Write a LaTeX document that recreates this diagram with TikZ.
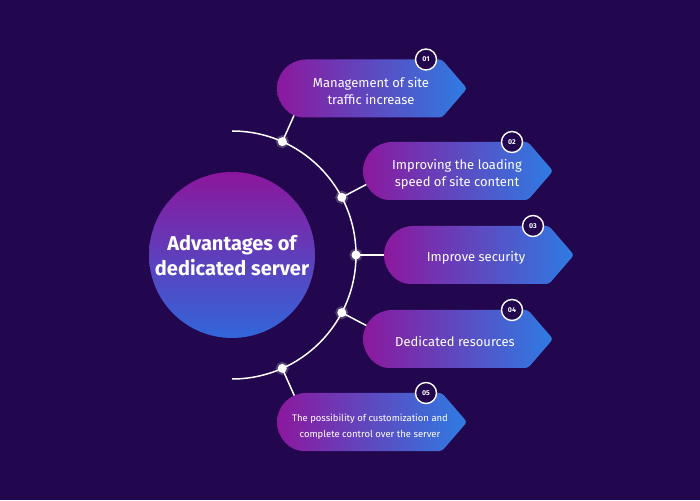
\documentclass[tikz,border=0pt]{standalone}
\usepackage{fontspec}
\setmainfont{Fira Sans}
\usetikzlibrary{calc}
\definecolor{bg}{RGB}{34,6,78}
\definecolor{gleft}{RGB}{140,24,158}
\definecolor{gright}{RGB}{46,124,227}
\definecolor{ctop}{RGB}{140,22,156}
\definecolor{cbot}{RGB}{50,102,218}
\tikzset{
  arcline/.style={draw=white, line width=1.5pt},
  conn/.style={draw=white, line width=1.5pt},
  dot/.style={circle, fill=white, inner sep=0pt, minimum size=9pt, draw=white, draw opacity=0.22, line width=4pt},
  boxtext/.style={text=white, align=center, font=\fontsize{13}{17}\selectfont},
  smalltext/.style={text=white, align=center, font=\fontsize{9.5}{16}\selectfont},
  num/.style={circle, draw=white, line width=1.4pt, fill=bg, minimum size=21pt, inner sep=0pt, text=white, font=\bfseries\fontsize{7}{8}\selectfont},
  centertext/.style={text=white, align=center, font=\bfseries\fontsize{20}{25}\selectfont}
}
\newcommand{\arrowbox}[1]{%
  \shade[left color=gleft, right color=gright, rounded corners=3pt]
    ($(#1)+(0,29)$) -- ($(#1)+(136,29)$) -- ($(#1)+(161,0)$) -- ($(#1)+(136,-29)$) -- ($(#1)+(0,-29)$)
    [sharp corners] arc[start angle=270, end angle=90, radius=29] -- cycle;}
\begin{document}
\begin{tikzpicture}[x=1pt,y=1pt]
\useasboundingbox (0,0) rectangle (700,500);
\fill[bg] (0,0) rectangle (700,500);
\coordinate (O) at (232,245);
\coordinate (b1) at (306,411.5);
\coordinate (b2) at (392,329);
\coordinate (b3) at (413,245);
\coordinate (b4) at (392,161);
\coordinate (b5) at (306,78);
% arc
\draw[arcline] (232,369) arc[start angle=90, end angle=-90, radius=124];
% dots and connectors
\foreach \n in {1,...,5} {
  \coordinate (p\n) at ($(O)!124pt!(b\n)$);
  \draw[conn] (p\n) -- (b\n);
  \node[dot] (d\n) at (p\n) {};
}
% boxes
\foreach \n in {1,...,5} { \arrowbox{b\n} }
% texts
\node[boxtext] (t1) at ($(b1)+(65,-3)$) {Management of site\\traffic increase};
\node[boxtext] (t2) at ($(b2)+(65,-3)$) {Improving the loading\\speed of site content};
\node[boxtext] (t3) at ($(b3)+(63,-3)$) {Improve security};
\node[boxtext] (t4) at ($(b4)+(63,-3)$) {Dedicated resources};
\node[smalltext] (t5) at ($(b5)+(64,-5)$) {The possibility of customization and\\complete control over the server};
% numbers
\node[num] (n1) at ($(b1)+(120,29)$) {01};
\node[num] (n2) at ($(b2)+(120,29)$) {02};
\node[num] (n3) at ($(b3)+(120,29)$) {03};
\node[num] (n4) at ($(b4)+(120,29)$) {04};
\node[num] (n5) at ($(b5)+(120,29)$) {05};
% central circle
\shade[top color=ctop, bottom color=cbot] (O) circle[radius=83];
\node[centertext] (c) at ($(O)+(0,-1)$) {Advantages of\\dedicated server};
\end{tikzpicture}
\end{document}
